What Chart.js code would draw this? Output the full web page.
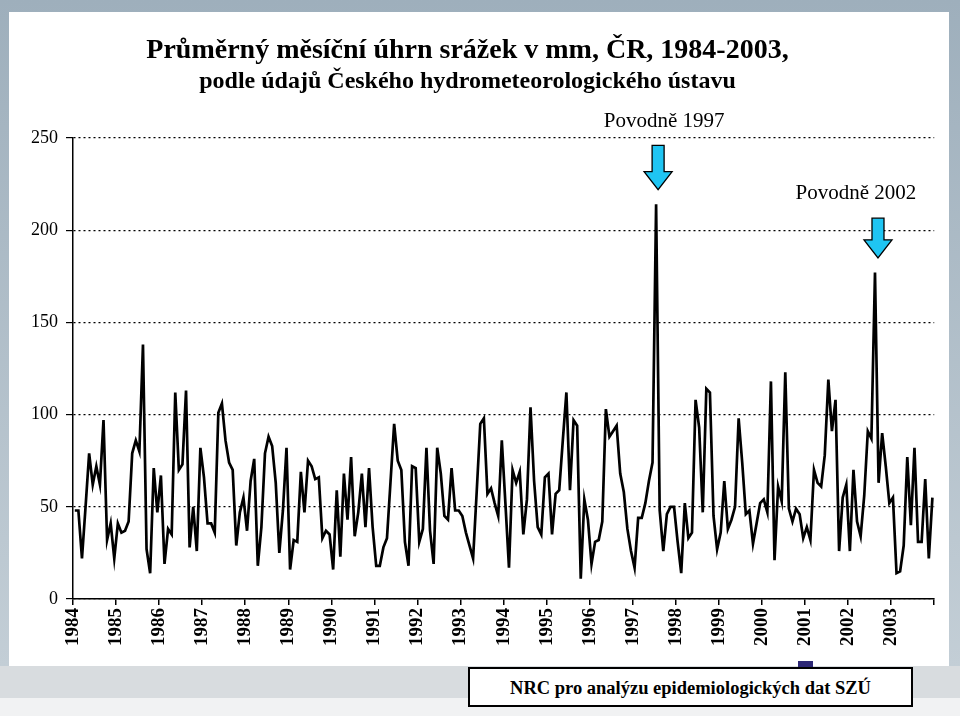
<!DOCTYPE html>
<html>
<head>
<meta charset="utf-8">
<script src="https://cdn.jsdelivr.net/npm/chart.js@4.4.0/dist/chart.umd.min.js"></script>
<style>
  body { margin: 0; width: 960px; height: 716px; overflow: hidden; position: relative; background: #f1f2f3; }
  #frame { position: absolute; left: 0; top: 0; width: 960px; height: 666px; background: linear-gradient(#9eafbc, #c3ced6); }
  #panel { position: absolute; left: 9px; top: 12px; width: 940px; height: 654px; background: #fff; }
  #band { position: absolute; left: 0; top: 666px; width: 960px; height: 32px; background: #d8dcdf; }
  #wrap { position: absolute; left: 0; top: 0; width: 960px; height: 716px; }
  #legendBit { position: absolute; left: 798px; top: 661px; width: 15px; height: 7px; background: #2d2775; }
  #source { position: absolute; left: 468px; top: 667px; width: 441px; height: 36px; border: 2px solid #000; background: #fff;
            text-align: center; font: bold 18.5px 'Liberation Serif', 'Times New Roman', serif; line-height: 38px; }
</style>
</head>
<body>
<div id="frame"></div>
<div id="panel"></div>
<div id="band"></div>
<div id="legendBit"></div>
<div id="wrap"><canvas id="rainChart"></canvas></div>
<div id="source">NRC pro analýzu epidemiologických dat SZÚ</div>
<script>
// tick labels (one per January)
const years = ['1984', '1985', '1986', '1987', '1988', '1989', '1990', '1991', '1992', '1993',
               '1994', '1995', '1996', '1997', '1998', '1999', '2000', '2001', '2002', '2003'];

// monthly precipitation in mm, Jan..Dec
const rainfall = [
  48, 48, 22, 50, 79, 62, 72, 62, 97, 32, 41, 22,      // 1984
  41, 36, 37, 42, 79, 86, 80, 138, 27, 14, 71, 47,     // 1985
  67, 19, 38, 35, 112, 70, 73, 113, 28, 50, 26, 82,    // 1986
  66, 41, 41, 36, 101, 106, 86, 74, 70, 29, 47, 55,    // 1987
  37, 64, 76, 18, 39, 79, 88, 83, 63, 25, 48, 82,      // 1988
  16, 32, 31, 69, 47, 75, 72, 65, 66, 33, 37, 35,      // 1989
  16, 59, 23, 68, 43, 77, 34, 47, 68, 39, 71, 39,      // 1990
  18, 18, 28, 33, 64, 95, 75, 70, 31, 18, 72, 71,      // 1991
  31, 38, 82, 37, 19, 82, 68, 45, 43, 71, 48, 48,      // 1992
  45, 36, 29, 22, 58, 95, 98, 57, 60, 52, 45, 86,      // 1993
  52, 17, 70, 63, 69, 35, 54, 104, 64, 39, 35, 66,     // 1994
  68, 35, 57, 59, 86, 112, 59, 97, 94, 11, 54, 43,     // 1995
  19, 31, 32, 42, 103, 88, 91, 94, 68, 58, 38, 26,     // 1996
  17, 44, 44, 52, 64, 74, 214, 48, 26, 46, 50, 50,     // 1997
  31, 14, 52, 33, 36, 108, 93, 47, 114, 112, 45, 27,   // 1998
  36, 64, 38, 43, 50, 98, 74, 46, 48, 30, 41, 52,      // 1999
  54, 47, 118, 21, 61, 53, 123, 49, 42, 49, 46, 33,    // 2000
  39, 32, 70, 63, 61, 78, 119, 91, 108, 26, 55, 62,    // 2001
  26, 70, 42, 34, 56, 91, 87, 177, 63, 90, 72, 52,     // 2002
  55, 14, 15, 29, 77, 40, 82, 31, 31, 65, 22, 55       // 2003
];

// flood months (index into rainfall) and their captions
const floodMonths = [162, 223];
const floodLabels = ['Povodně 1997', 'Povodně 2002'];

const serif = "'Liberation Serif', 'Times New Roman', serif";

// cyan arrows pointing at the flood peaks
const floodArrows = {
  id: 'floodArrows',
  afterDatasetsDraw(chart, args, opts) {
    const { ctx, scales: { x, y } } = chart;
    opts.items.forEach((it, k) => {
      const cx = x.getPixelForValue(floodMonths[k] + 0.5) + it.dx;
      const top = y.getPixelForValue(it.top);
      const tip = y.getPixelForValue(it.tip);
      const neck = tip - 18;
      ctx.save();
      ctx.beginPath();
      ctx.moveTo(cx - 6, top);
      ctx.lineTo(cx + 6, top);
      ctx.lineTo(cx + 6, neck);
      ctx.lineTo(cx + 14, neck);
      ctx.lineTo(cx, tip);
      ctx.lineTo(cx - 14, neck);
      ctx.lineTo(cx - 6, neck);
      ctx.closePath();
      ctx.fillStyle = '#1fc5f3';
      ctx.fill();
      ctx.lineWidth = 1.3;
      ctx.strokeStyle = '#000';
      ctx.stroke();
      ctx.font = '21px ' + serif;
      ctx.textAlign = 'center';
      ctx.textBaseline = 'middle';
      ctx.fillStyle = '#000';
      ctx.fillText(floodLabels[k], cx + it.tx, y.getPixelForValue(it.ty));
      ctx.restore();
    });
  }
};

const ctx = document.getElementById('rainChart').getContext('2d');

new Chart(ctx, {
  type: 'line',
  data: {
    datasets: [{
      data: rainfall.map((v, i) => ({ x: i + 0.5, y: v })),
      borderColor: '#000',
      borderWidth: 2.7,
      pointRadius: 0,
      tension: 0,
      fill: false
    }]
  },
  plugins: [floodArrows],
  options: {
    responsive: true,
    maintainAspectRatio: false,
    animation: false,
    layout: { padding: { top: 34, left: 0, right: 25, bottom: 0 } },
    plugins: {
      legend: { display: false },
      tooltip: { enabled: false },
      title: {
        display: true,
        text: 'Průměrný měsíční úhrn srážek v mm, ČR, 1984-2003,',
        color: '#000',
        font: { family: serif, size: 28, weight: 'bold', lineHeight: 1.2 },
        padding: 0
      },
      subtitle: {
        display: true,
        text: 'podle údajů Českého hydrometeorologického ústavu',
        color: '#000',
        font: { family: serif, size: 24, weight: 'bold', lineHeight: 1.2 },
        padding: { top: 0, bottom: 41.6 }
      },
      floodArrows: {
        items: [
          { dx: 2, tx: 6, top: 246, tip: 222, ty: 259 },
          { dx: 3, tx: -22, top: 206.5, tip: 185, ty: 220 }
        ]
      }
    },
    scales: {
      x: {
        type: 'linear',
        min: 0,
        max: 240,
        afterFit: s => { s.height = 117; },
        ticks: {
          stepSize: 12,
          autoSkip: false,
          minRotation: 90,
          maxRotation: 90,
          padding: 3,
          color: '#000',
          font: { family: serif, size: 19, weight: 'bold' },
          callback: v => (v < 240 ? years[v / 12] : '')
        },
        grid: { drawOnChartArea: false, drawTicks: true, tickLength: 6, color: '#000', lineWidth: 1.5 },
        border: { display: true, color: '#000', width: 1.5 }
      },
      y: {
        min: 0,
        max: 250,
        afterFit: s => { s.width = 73; },
        ticks: {
          stepSize: 50,
          padding: 8,
          color: '#000',
          font: { family: serif, size: 18 }
        },
        grid: { color: '#000', lineWidth: 1.2, tickLength: 7 },
        border: { display: true, color: '#000', width: 1.5, dash: [2, 3] }
      }
    }
  }
});
</script>
</body>
</html>
